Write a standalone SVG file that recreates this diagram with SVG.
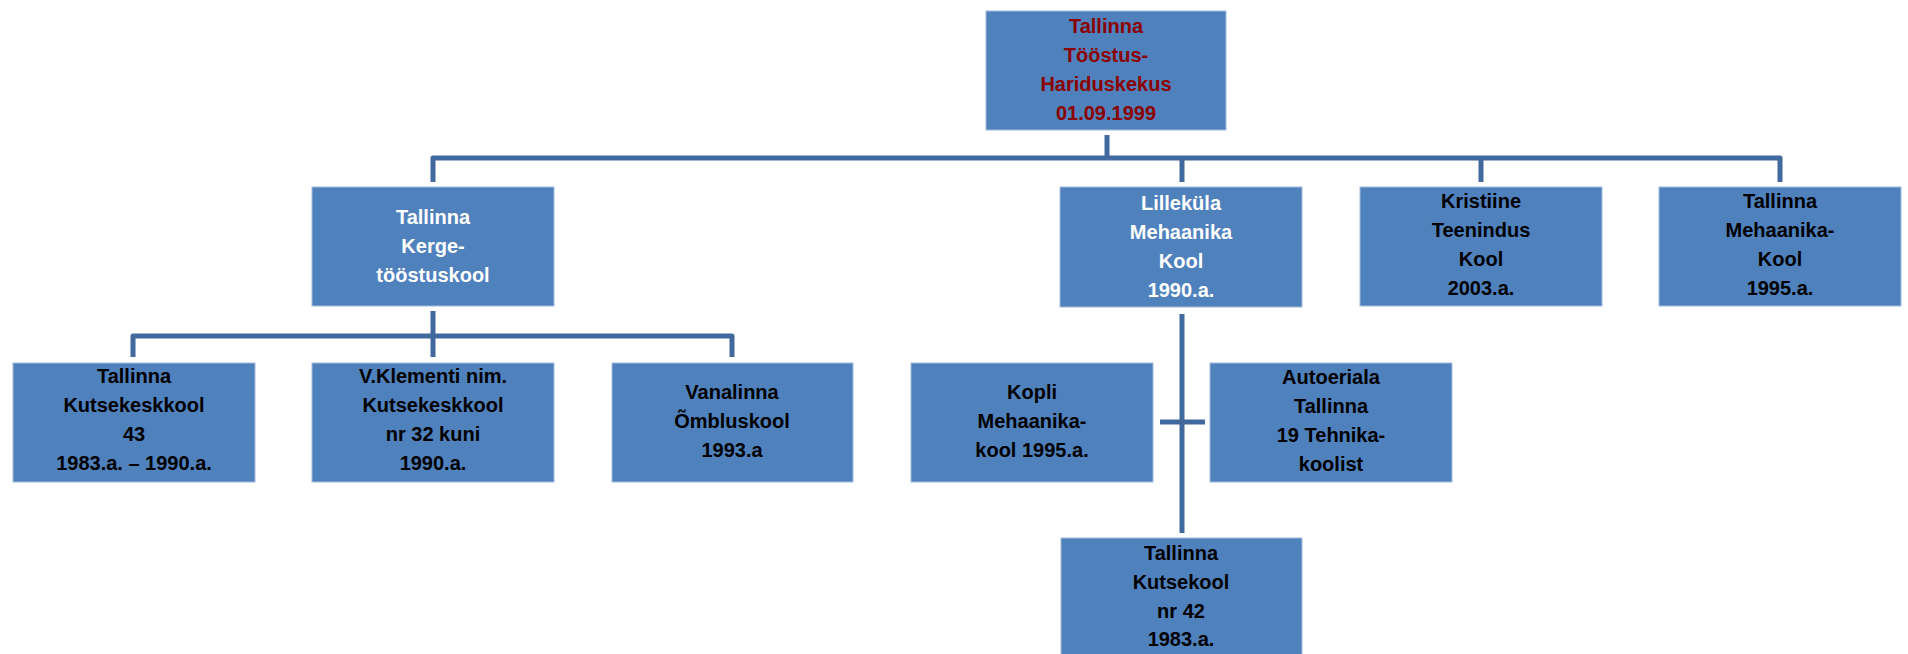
<svg xmlns="http://www.w3.org/2000/svg" width="1908" height="654" viewBox="0 0 1908 654">
<style>
.box{fill:#4F81BD;stroke:#A3BBDC;stroke-width:1}
.t{font-family:"Liberation Sans",Arial,sans-serif;font-weight:bold;font-size:20px;text-anchor:middle}
.w{fill:#FFFFFF}.k{fill:#000000}.r{fill:#8B0000}
.c{fill:none;stroke:#41699D;stroke-width:5;stroke-linejoin:round}
</style>
<rect width="1908" height="654" fill="#FFFFFF"/>
<g id="connectors">
<path class="c" d="M1107 135V158"/>
<path class="c" d="M433 182V158H1780V182"/>
<path class="c" d="M1182 158V182"/>
<path class="c" d="M1481 158V182"/>
<path class="c" d="M433 311V336"/>
<path class="c" d="M133 357V336H732V357"/>
<path class="c" d="M433 336V357"/>
<path class="c" d="M1182 314V533"/>
<path class="c" d="M1160 422H1205"/>
</g>
<g id="n-top"><rect class="box" x="986" y="11" width="240" height="119"/>
<text class="t r" x="1106" y="33">Tallinna</text><text class="t r" x="1106" y="62">Tööstus-</text><text class="t r" x="1106" y="91">Hariduskekus</text><text class="t r" x="1106" y="120">01.09.1999</text></g>
<g id="n-kerge"><rect class="box" x="312" y="187" width="242" height="119"/>
<text class="t w" x="433" y="224">Tallinna</text><text class="t w" x="433" y="253">Kerge-</text><text class="t w" x="433" y="282">tööstuskool</text></g>
<g id="n-lillekyla"><rect class="box" x="1060" y="187" width="242" height="120"/>
<text class="t w" x="1181" y="210">Lilleküla</text><text class="t w" x="1181" y="239">Mehaanika</text><text class="t w" x="1181" y="268">Kool</text><text class="t w" x="1181" y="297">1990.a.</text></g>
<g id="n-kristiine"><rect class="box" x="1360" y="187" width="242" height="119"/>
<text class="t k" x="1481" y="208">Kristiine</text><text class="t k" x="1481" y="237">Teenindus</text><text class="t k" x="1481" y="266">Kool</text><text class="t k" x="1481" y="295">2003.a.</text></g>
<g id="n-tmk"><rect class="box" x="1659" y="187" width="242" height="119"/>
<text class="t k" x="1780" y="208">Tallinna</text><text class="t k" x="1780" y="237">Mehaanika-</text><text class="t k" x="1780" y="266">Kool</text><text class="t k" x="1780" y="295">1995.a.</text></g>
<g id="n-kk43"><rect class="box" x="13" y="363" width="242" height="119"/>
<text class="t k" x="134" y="383">Tallinna</text><text class="t k" x="134" y="412">Kutsekeskkool</text><text class="t k" x="134" y="441">43</text><text class="t k" x="134" y="470">1983.a. – 1990.a.</text></g>
<g id="n-klementi"><rect class="box" x="312" y="363" width="242" height="119"/>
<text class="t k" x="433" y="383">V.Klementi nim.</text><text class="t k" x="433" y="412">Kutsekeskkool</text><text class="t k" x="433" y="441">nr 32 kuni</text><text class="t k" x="433" y="470">1990.a.</text></g>
<g id="n-vanalinna"><rect class="box" x="612" y="363" width="241" height="119"/>
<text class="t k" x="732" y="399">Vanalinna</text><text class="t k" x="732" y="428">Õmbluskool</text><text class="t k" x="732" y="457">1993.a</text></g>
<g id="n-kopli"><rect class="box" x="911" y="363" width="242" height="119"/>
<text class="t k" x="1032" y="399">Kopli</text><text class="t k" x="1032" y="428">Mehaanika-</text><text class="t k" x="1032" y="457">kool 1995.a.</text></g>
<g id="n-autoeriala"><rect class="box" x="1210" y="363" width="242" height="119"/>
<text class="t k" x="1331" y="384">Autoeriala</text><text class="t k" x="1331" y="413">Tallinna</text><text class="t k" x="1331" y="442">19 Tehnika-</text><text class="t k" x="1331" y="471">koolist</text></g>
<g id="n-kk42"><rect class="box" x="1061" y="538" width="241" height="119"/>
<text class="t k" x="1181" y="560">Tallinna</text><text class="t k" x="1181" y="589">Kutsekool</text><text class="t k" x="1181" y="618">nr 42</text><text class="t k" x="1181" y="646">1983.a.</text></g>
</svg>
